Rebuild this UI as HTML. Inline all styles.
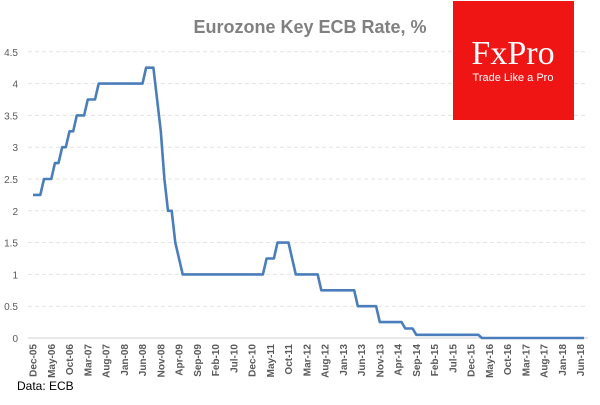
<!DOCTYPE html>
<html><head><style>
body{margin:0;background:#fff;}
svg text{font-family:"Liberation Sans",sans-serif;}
</style></head><body>
<svg id="s" width="600" height="400" xmlns="http://www.w3.org/2000/svg">
<rect width="600" height="400" fill="#fff"/>
<g id="g"></g>
<text x="310" y="33" text-anchor="middle" font-size="18" font-weight="bold" fill="#808080">Eurozone  Key ECB Rate, %</text>
<rect x="453" y="1" width="121" height="119" fill="#ef1515"/>
<text x="513" y="64" text-anchor="middle" font-size="34" fill="#fff" style="font-family:'Liberation Serif',serif">FxPro</text>
<text x="513" y="81" text-anchor="middle" font-size="11" fill="#fff">Trade Like a Pro</text>
<text x="17" y="390" font-size="12" fill="#000">Data: ECB</text>
</svg>
<script>
var g=document.getElementById('g'),h='';
function y(v){return 338-63.6*v;}
for(var i=0;i<=9;i++){var v=i*0.5,yy=y(v);
 if(i>0)h+='<line x1="28" x2="588" y1="'+yy+'" y2="'+yy+'" stroke="#e3e3e3" stroke-dasharray="4,3"/>';
 h+='<text x="18" y="'+(yy+4)+'" text-anchor="end" font-size="10" fill="#595959">'+(i==0?'0':v)+'</text>';}
h+='<line x1="28" x2="588" y1="338" y2="338" stroke="#d0d0d0"/>';
var mn=['Jan','Feb','Mar','Apr','May','Jun','Jul','Aug','Sep','Oct','Nov','Dec'];
function X(m){return 33+3.65*m;}
for(var m=0;m<=150;m+=5){var mo=(11+m)%12,yr=5+Math.floor((11+m)/12);
 var lab=mn[mo]+'-'+(yr<10?'0':'')+yr;
 h+='<text transform="translate('+(X(m)+3.5)+',344) rotate(-90)" text-anchor="end" font-size="10" font-weight="bold" fill="#595959">'+lab+'</text>';}
var ch=[[0,2.25],[3,2.5],[6,2.75],[8,3],[10,3.25],[12,3.5],[15,3.75],[18,4],[31,4.25],[34,3.75],[35,3.25],[36,2.5],[37,2],[39,1.5],[40,1.25],[41,1],[64,1.25],[67,1.5],[71,1.25],[72,1],[79,0.75],[89,0.5],[95,0.25],[102,0.15],[105,0.05],[123,0]];
var pts=[],ci=0,val=2.25;
for(var m=0;m<=151;m++){while(ci<ch.length&&ch[ci][0]<=m){val=ch[ci][1];ci++;}pts.push(X(m).toFixed(1)+','+y(val).toFixed(1));}
h+='<polyline points="'+pts.join(' ')+'" fill="none" stroke="#4a7ebb" stroke-width="2.6" stroke-linejoin="round"/>';
g.innerHTML=h;
</script>
</body></html>
